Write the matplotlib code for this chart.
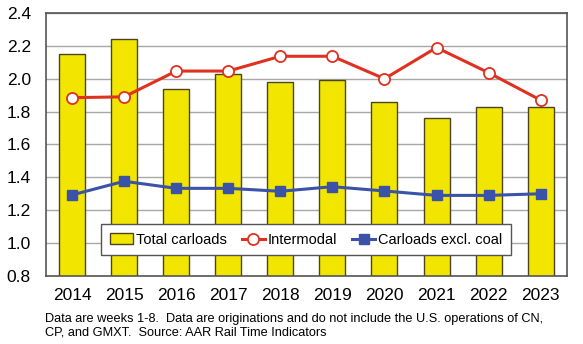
import matplotlib.pyplot as plt
import numpy as np

plt.rcParams['font.family'] = ['Liberation Sans', 'DejaVu Sans']

years = ['2014', '2015', '2016', '2017', '2018', '2019', '2020', '2021', '2022', '2023']
total_carloads = [2.15, 2.24, 1.94, 2.03, 1.98, 1.99, 1.86, 1.76, 1.83, 1.83]
intermodal = [1.885, 1.89, 2.047, 2.047, 2.137, 2.137, 2.0, 2.19, 2.037, 1.87]
carloads_ex_coal = [1.293, 1.376, 1.333, 1.333, 1.315, 1.343, 1.317, 1.29, 1.29, 1.30]

fig = plt.figure(figsize=(5.83, 3.44), dpi=100)
ax = fig.add_axes([0.079, 0.198, 0.893, 0.764])

x = np.arange(len(years))
bars = ax.bar(x, total_carloads, width=0.5, color='#f2e600', edgecolor='#4a4520',
              linewidth=1.0, label='Total carloads', zorder=2)
l1, = ax.plot(x, intermodal, color='#e03020', linewidth=2.2, marker='o', markersize=8,
              markerfacecolor='white', markeredgecolor='#e03020', markeredgewidth=1.3,
              label='Intermodal', zorder=3)
l2, = ax.plot(x, carloads_ex_coal, color='#3a52a8', linewidth=2.2, marker='s', markersize=7,
              label='Carloads excl. coal', zorder=3)

ax.set_xlim(-0.5, len(years) - 0.5)
ax.set_ylim(0.8, 2.4)
yt = np.arange(0.8, 2.41, 0.2)
ax.set_yticks(yt)
ax.set_yticklabels([f'{v:.1f}' for v in yt])
ax.set_xticks(x)
ax.set_xticklabels(years)
ax.tick_params(length=0, labelsize=12.5)
ax.tick_params(axis='x', pad=9)
ax.tick_params(axis='y', pad=11)
ax.yaxis.grid(True, color='#a8a8a8', linewidth=1.0, zorder=0)
ax.set_axisbelow(True)
for s in ax.spines.values():
    s.set_color('#555555')
    s.set_linewidth(1.2)

leg = ax.legend([bars, l1, l2], ['Total carloads', 'Intermodal', 'Carloads excl. coal'],
                loc='lower center', bbox_to_anchor=(0.5, 0.05), ncol=3, fontsize=10.5,
                frameon=True, fancybox=False, edgecolor='#555555', framealpha=1,
                handlelength=1.6, handletextpad=0.2, columnspacing=1.0,
                borderpad=0.6)
leg.get_frame().set_linewidth(1.0)

fig.text(0.077, 0.015, 'Data are weeks 1-8.  Data are originations and do not include the U.S. operations of CN,\n'
         'CP, and GMXT.  Source: AAR Rail Time Indicators', fontsize=9.2, va='bottom',
         linespacing=1.15)

fig.savefig('out.png', dpi=100)
